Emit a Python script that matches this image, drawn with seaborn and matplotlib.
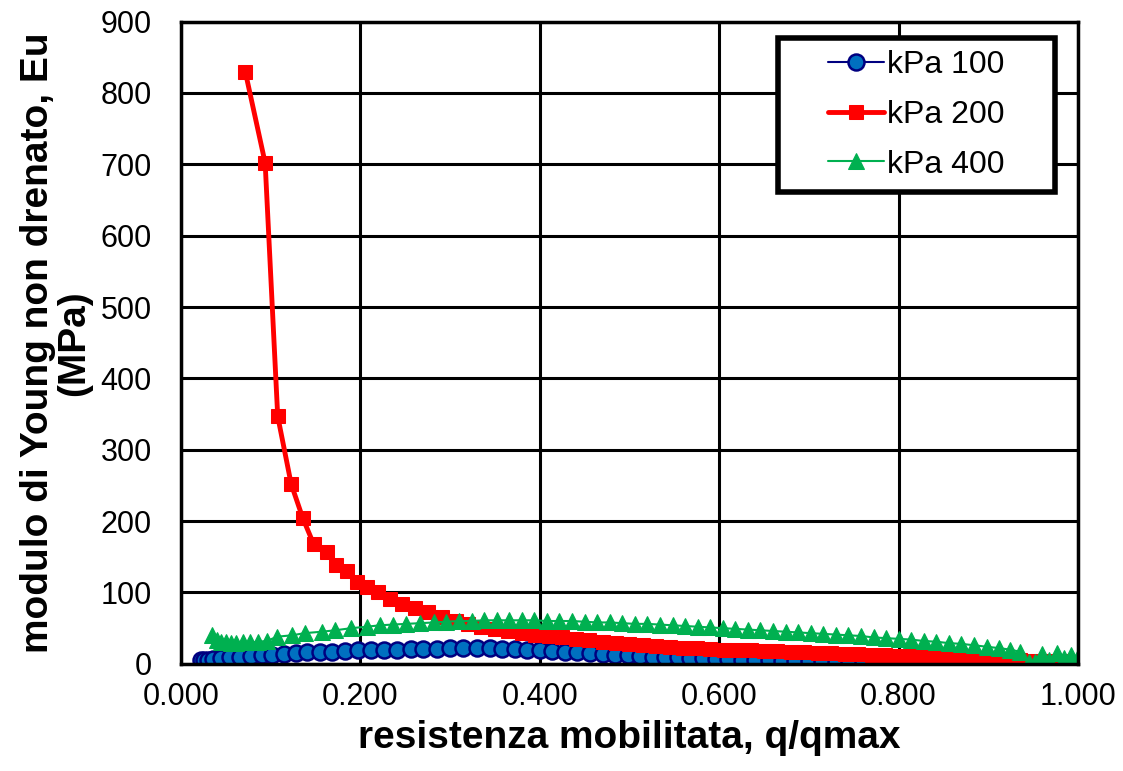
import numpy as np
import pandas as pd
import matplotlib
matplotlib.use("Agg")
import matplotlib.pyplot as plt
from matplotlib.patches import Rectangle
import seaborn as sns

# kPa 100
q100 = [0.022, 0.026, 0.030, 0.036, 0.045, 0.055, 0.066, 0.078, 0.090, 0.102,
        0.115, 0.128, 0.141, 0.155, 0.169, 0.183, 0.197, 0.212, 0.226, 0.241,
        0.256, 0.270, 0.285, 0.300, 0.315, 0.330, 0.345, 0.358, 0.372, 0.386,
        0.400, 0.414, 0.428, 0.442, 0.456, 0.470, 0.484, 0.498, 0.512, 0.526,
        0.540, 0.554, 0.568, 0.582, 0.596, 0.610, 0.625, 0.640, 0.655, 0.670,
        0.685, 0.700, 0.715, 0.730, 0.745, 0.760, 0.775, 0.790, 0.805, 0.820,
        0.835, 0.850, 0.865, 0.880, 0.895, 0.910, 0.925, 0.940, 0.952]
e100 = [5, 6, 6, 7, 8, 9, 10, 11, 12, 13,
        14, 15, 16, 17, 17, 18, 19, 19, 20, 20,
        21, 21, 21, 22, 22, 22, 22, 21, 21, 20,
        19, 18, 17, 16, 15, 14, 13, 12, 11, 10,
        9.5, 9, 8, 7.5, 7, 6.5, 6, 5.5, 5, 4.5,
        4, 3.8, 3.5, 3.2, 3, 2.8, 2.6, 2.4, 2.2, 2,
        1.8, 1.6, 1.4, 1.2, 1, 0.8, 0.6, 0.4, 0.2]

# kPa 200
q200 = [0.072, 0.094, 0.108, 0.123, 0.136, 0.148, 0.163, 0.173, 0.185, 0.196,
        0.207, 0.220, 0.233, 0.246, 0.261, 0.275, 0.291, 0.307,
        0.320, 0.335, 0.350, 0.365, 0.380, 0.395, 0.410, 0.425, 0.440, 0.455,
        0.470, 0.485, 0.500, 0.515, 0.530, 0.545, 0.560, 0.575, 0.590, 0.605,
        0.620, 0.635, 0.650, 0.665, 0.680, 0.695, 0.710, 0.725, 0.740, 0.755,
        0.770, 0.785, 0.800, 0.815, 0.830, 0.845, 0.860, 0.875, 0.890, 0.905,
        0.920, 0.935, 0.950, 0.965, 0.980, 0.995, 1.000]
e200 = [829, 702, 347, 252, 204, 168, 157, 138, 130, 115,
        108, 100, 91, 84, 78, 72, 66, 60,
        56, 52, 49, 46, 43, 41, 39, 37, 35, 33,
        31, 29.5, 28, 26.5, 25, 23.5, 22.5, 21.5, 20.5, 20,
        19.5, 19, 18, 17.5, 17, 16, 15.5, 15, 14, 13.5,
        13, 12, 11, 10.5, 10, 9.5, 9, 8.5, 8, 7,
        6, 5, 4.5, 4, 3.5, 3, 2.5]

# kPa 400
q400 = [0.035, 0.040, 0.045, 0.050, 0.056, 0.062, 0.069, 0.077, 0.086, 0.096,
        0.107, 0.124, 0.138, 0.157, 0.172, 0.190, 0.207, 0.222, 0.236, 0.251,
        0.267, 0.282, 0.296, 0.310, 0.324, 0.338, 0.352, 0.366, 0.380, 0.394,
        0.408, 0.422, 0.436, 0.450,
        0.464, 0.478, 0.492, 0.506, 0.520, 0.534, 0.548, 0.562, 0.576, 0.590,
        0.604, 0.618, 0.632, 0.646, 0.660, 0.674, 0.688, 0.702, 0.716, 0.730,
        0.744, 0.758, 0.772, 0.786, 0.800, 0.814, 0.828, 0.842, 0.856, 0.870,
        0.884, 0.898, 0.912, 0.924, 0.935, 0.945, 0.952, 0.960, 0.968, 0.976,
        0.984, 0.992, 1.000]
e400 = [40, 34, 31, 30, 29, 29, 30, 30, 31, 32,
        38, 40, 43, 45, 47, 50, 52, 54, 55, 56,
        57, 58, 59, 60, 60, 61, 61, 61, 61, 61,
        60, 60, 60, 59,
        58, 58, 57, 56, 56, 55, 54, 53, 52, 51,
        50, 49, 48, 47, 46, 45, 44, 43, 42, 41,
        40, 39, 37, 36, 35, 34, 32, 31, 29, 28,
        26, 24, 22, 20, 17, 2, 3, 14, 5, 15,
        8, 12, 10]

x_ticks = [0.0, 0.2, 0.4, 0.6, 0.8, 1.0]
y_ticks = [0, 100, 200, 300, 400, 500, 600, 700, 800, 900]

sns.set_style("white")
plt.rcParams['font.family'] = ['Liberation Sans', 'DejaVu Sans']
plt.rcParams['text.color'] = 'black'
plt.rcParams['axes.labelcolor'] = 'black'

fig = plt.figure(figsize=(11.23, 7.71), dpi=100)
ax = fig.add_axes([0.161, 0.139, 0.799, 0.833])

sns.lineplot(x=q100, y=e100, ax=ax, estimator=None, sort=False, color='#000080',
             linewidth=1.5, marker='o', markersize=11.5, markerfacecolor='#0070C0',
             markeredgecolor='#000080', markeredgewidth=1.8, label='kPa 100')
sns.lineplot(x=q200, y=e200, ax=ax, estimator=None, sort=False, color='#FF0000',
             linewidth=3.5, marker='s', markersize=10.5, markerfacecolor='#FF0000',
             markeredgecolor='#FF0000', label='kPa 200')
sns.lineplot(x=q400, y=e400, ax=ax, estimator=None, sort=False, color='#00B050',
             linewidth=1.5, marker='^', markersize=11.5, markerfacecolor='#00B050',
             markeredgecolor='#00B050', label='kPa 400')

ax.set_xlim(0, 1)
ax.set_ylim(0, 900)
ax.set_xticks(x_ticks)
ax.set_xticklabels([f"{v:.3f}" for v in x_ticks])
ax.set_yticks(y_ticks)
ax.tick_params(axis='both', labelsize=22, length=0, colors='black')
ax.tick_params(axis='x', pad=13)
ax.tick_params(axis='y', pad=21)

ax.grid(True, color='black', linewidth=2.2)
ax.set_axisbelow(True)
for s in ax.spines.values():
    s.set_color('black')
    s.set_linewidth(2.5)

ax.set_xlabel('resistenza mobilitata, q/qmax', fontsize=28, fontweight='bold', labelpad=6)
ax.set_ylabel('modulo di Young non drenato, Eu\n(MPa)', fontsize=28, fontweight='bold',
              labelpad=6, linespacing=1.0)

# legend box (Excel style, wide padding)
box = Rectangle((0.6656, 0.7352), 0.3088, 0.2398, transform=ax.transAxes,
                facecolor='white', edgecolor='black', linewidth=4, zorder=5)
ax.add_patch(box)
leg = ax.legend(loc='center', bbox_to_anchor=(0.82, 0.855), borderaxespad=0,
                fontsize=23, frameon=False, labelspacing=0.62, handlelength=1.75,
                handletextpad=0.1, borderpad=0)
leg.set_zorder(6)

fig.savefig('out.png', dpi=100)
